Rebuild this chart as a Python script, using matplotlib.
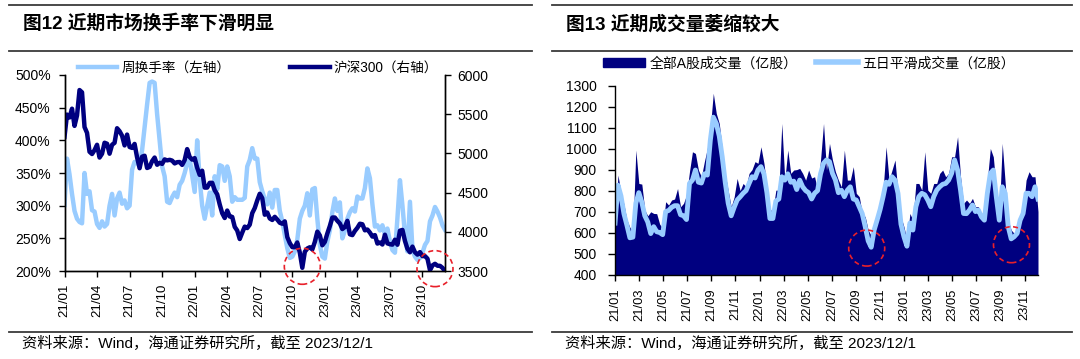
import numpy as np
import matplotlib
matplotlib.use("Agg")
import matplotlib.pyplot as plt
from matplotlib.lines import Line2D
from matplotlib.patches import Circle, Patch
from matplotlib.transforms import ScaledTranslation

plt.rcParams['font.family'] = ['Liberation Sans', 'Noto Sans CJK SC']

DARK = '#000080'
LIGHT = '#99CCFF'

# ---- Figure 12: weekly turnover (left axis, %) and CSI 300 (right axis), weekly from 2021/01
turnover = [
    301, 372, 348, 318, 292, 280, 275, 273, 350, 318,
    322, 293, 291, 272, 266, 276, 268, 272, 300, 318,
    285, 311, 320, 303, 308, 296, 300, 355, 367, 365,
    362, 385, 420, 455, 488, 490, 488, 440, 400, 360,
    345, 306, 304, 313, 320, 313, 332, 338, 350, 365,
    372, 347, 321, 400, 340, 300, 280, 300, 320, 285,
    345, 325, 362, 360, 338, 360, 345, 306, 313, 309,
    309, 309, 312, 360, 370, 388, 372, 372, 336, 322,
    310, 302, 320, 297, 324, 324, 292, 276, 255, 235,
    220, 222, 230, 248, 280, 292, 300, 319, 285, 325,
    327, 280, 240, 222, 219, 245, 262, 290, 311, 292,
    305, 250, 262, 280, 290, 296, 291, 314, 311, 311,
    327, 357, 342, 302, 268, 270, 262, 270, 256, 265,
    245, 232, 228, 281, 339, 300, 256, 230, 306, 232,
    222, 217, 220, 228, 240, 246, 276, 285, 298, 291,
    282, 270, 263]
csi300 = [
    5211, 5495, 5458, 5570, 5351, 5484, 5808, 5779, 5336, 5262,
    5021, 4992, 5042, 5110, 4947, 4996, 5136, 5123, 4996, 5110,
    5135, 5321, 5283, 5225, 5102, 5240, 5082, 5070, 5121, 4949,
    4811, 4958, 4970, 4814, 4828, 4901, 4947, 4855, 4880, 4866,
    4923, 4911, 4918, 4908, 4872, 4888, 4890, 4853, 4915, 5055,
    4954, 4921, 4940, 4818, 4726, 4779, 4564, 4564, 4624, 4625,
    4531, 4478, 4349, 4237, 4176, 4271, 4195, 4190, 4063, 4016,
    3908, 3990, 4066, 4048, 4091, 4238, 4303, 4400, 4485, 4428,
    4218, 4246, 4170, 4151, 4191, 4156, 4115, 4103, 4133, 3932,
    3856, 3804, 3804, 3864, 3734, 3541, 3745, 3787, 3803, 3775,
    3871, 4002, 3954, 3828, 3872, 3979, 4074, 4182, 4182, 4140,
    4106, 4035, 4061, 4140, 3968, 3958, 4011, 4051, 4103, 4096,
    4019, 4029, 3990, 3939, 3958, 3850, 3864, 3838, 3963, 3852,
    3842, 3836, 3899, 3835, 4014, 4024, 3884, 3783, 3739, 3811,
    3739, 3709, 3741, 3690, 3690, 3657, 3511, 3571, 3592, 3567,
    3566, 3540, 3497]
left_ticklabels = ['21/01', '21/04', '21/07', '21/10', '22/01', '22/04',
                   '22/07', '22/10', '23/01', '23/04', '23/07', '23/10']

# ---- Figure 13: A-share volume (100m shares) and its 5-day smoothing, sampled weekly
volume = [
    650, 874, 790, 735, 660, 625, 604, 993, 834, 831,
    707, 680, 699, 691, 690, 640, 620, 747, 731, 755,
    760, 810, 723, 739, 779, 890, 985, 977, 898, 866,
    938, 1001, 1100, 1264, 1168, 1120, 1000, 880, 800, 723,
    770, 858, 800, 834, 818, 882, 900, 938, 930, 1009,
    930, 818, 707, 707, 802, 802, 1120, 850, 993, 882,
    898, 900, 906, 882, 850, 898, 860, 866, 802, 946,
    1120, 898, 1025, 946, 890, 850, 818, 993, 850, 850,
    914, 787, 771, 691, 675, 612, 585, 643, 691, 739,
    802, 1009, 850, 898, 946, 787, 675, 628, 564, 691,
    659, 834, 834, 802, 985, 802, 787, 834, 834, 882,
    898, 866, 882, 961, 961, 1057, 866, 739, 755, 739,
    763, 723, 723, 691, 691, 850, 1001, 961, 802, 691,
    1025, 834, 659, 612, 596, 612, 675, 707, 850, 890,
    866, 866, 700]
volume_ma5 = [
    645, 826, 775, 690, 635, 575, 578, 740, 790, 745,
    680, 650, 595, 628, 604, 600, 590, 700, 705, 720,
    728, 728, 685, 680, 662, 834, 850, 898, 840, 836,
    880, 874, 1040, 1150, 1120, 1060, 960, 840, 740, 680,
    720, 755, 770, 787, 800, 834, 866, 860, 898, 914,
    880, 790, 667, 667, 750, 760, 866, 850, 880, 840,
    845, 805, 850, 818, 800, 790, 760, 787, 800, 880,
    930, 946, 938, 882, 850, 790, 802, 771, 802, 818,
    760, 755, 723, 690, 628, 560, 530, 612, 660, 710,
    771, 840, 830, 866, 850, 787, 640, 580, 535, 645,
    612, 723, 771, 787, 780, 755, 723, 771, 802, 818,
    830, 834, 850, 882, 946, 898, 802, 691, 690, 707,
    731, 700, 707, 675, 659, 787, 882, 898, 771, 659,
    818, 787, 628, 570, 580, 596, 659, 691, 787, 787,
    771, 818, 760]
right_ticklabels = ['21/01', '21/03', '21/05', '21/07', '21/09', '21/11',
                    '22/01', '22/03', '22/05', '22/07', '22/09', '22/11',
                    '23/01', '23/03', '23/05', '23/07', '23/09', '23/11']

fig = plt.figure(figsize=(10.8, 3.59), dpi=100)
W, H = 1080, 359


def ring(ax, x, y):
    tr = fig.dpi_scale_trans + ScaledTranslation(x, y, ax.transData)
    c = Circle((0, 0), 0.18, transform=tr, fill=False, ec='#E8202A',
               ls=(0, (3, 2)), lw=1.2, clip_on=False, zorder=10)
    ax.add_artist(c)


def style(ax):
    ax.tick_params(direction='out', length=4, width=1, color='black')
    for s in ax.spines.values():
        s.set_linewidth(1)
        s.set_color('black')
    ax.spines['top'].set_visible(False)


# left chart
ax1 = fig.add_axes([64.5 / W, 1 - 271 / H, (445 - 64.5) / W, 196 / H])
ax1r = ax1.twinx()
x1 = np.arange(len(turnover))
ax1.plot(x1, turnover, color=LIGHT, lw=3.2)
ax1r.plot(x1, csi300, color=DARK, lw=3.2)
ax1.set_xlim(0, len(turnover) - 1)
ax1.set_ylim(200, 500)
ax1r.set_ylim(3500, 6000)
ax1.set_yticks(np.arange(200, 501, 50))
ax1.set_yticklabels([f'{v}%' for v in range(200, 501, 50)])
ax1r.set_yticks(np.arange(3500, 6001, 500))
ax1.set_xticks(np.arange(len(left_ticklabels)) * 13)
ax1.set_xticklabels(left_ticklabels, rotation=90)
style(ax1)
style(ax1r)
ax1.tick_params(axis='y', labelsize=10, pad=6)
ax1r.tick_params(axis='y', labelsize=10, pad=5)
ax1.tick_params(axis='x', labelsize=9.5, pad=5)
ring(ax1r, 95, 3560)
ring(ax1r, 148, 3530)
h1 = [Line2D([], [], color=LIGHT, lw=3.2), Line2D([], [], color=DARK, lw=3.2)]
ax1r.legend(h1, ['周换手率（左轴）', '沪深300（右轴）'], loc='center left',
            bbox_to_anchor=(0.035, 1.037), ncol=2, frameon=False, fontsize=9.8,
            handlelength=2.9, handletextpad=0.3, columnspacing=4.4,
            borderpad=0, borderaxespad=0)

# right chart
ax3 = fig.add_axes([615 / W, 1 - 274.5 / H, (1038 - 615) / W, 188.8 / H])
x3 = np.arange(len(volume))
ax3.fill_between(x3, 0, volume, color=DARK, lw=0)
ax3.plot(x3, volume_ma5, color=LIGHT, lw=3.5)
ax3.set_xlim(0, len(volume) - 1)
ax3.set_ylim(400, 1300)
ax3.set_yticks(np.arange(400, 1301, 100))
ax3.set_xticks(np.arange(len(right_ticklabels)) * 8.09)
ax3.set_xticklabels(right_ticklabels, rotation=90)
style(ax3)
ax3.spines['right'].set_visible(False)
ax3.tick_params(axis='y', labelsize=10, pad=8, length=5)
ax3.tick_params(axis='x', labelsize=9.3, pad=6)
ring(ax3, 84.5, 526)
ring(ax3, 133.1, 542)
h3 = [Patch(color=DARK), Line2D([], [], color=LIGHT, lw=4)]
ax3.legend(h3, ['全部A股成交量（亿股）', '五日平滑成交量（亿股）'], loc='center left',
           bbox_to_anchor=(-0.028, 1.119), ncol=2, frameon=False, fontsize=10,
           handlelength=3.0, handletextpad=0.36, columnspacing=1.3,
           borderpad=0, borderaxespad=0)

# titles, rules and sources
for x0, x1_, title in [(8.6, 532, '图12 近期市场换手率下滑明显'),
                       (552, 1072, '图13 近期成交量萎缩较大')]:
    for yy in (5, 51, 332):
        fig.add_artist(Line2D([x0 / W, x1_ / W], [1 - yy / H, 1 - yy / H],
                              color='#3a3a3a', lw=1.3))
    fig.text((x0 + 14) / W, 1 - 24 / H, title, fontsize=13.5, fontweight='bold',
             va='center', ha='left')
    fig.text((x0 + 13) / W, 1 - 343.5 / H, '资料来源：Wind，海通证券研究所，截至 2023/12/1',
             fontsize=11, va='center', ha='left')

fig.savefig('out.png', dpi=100)
